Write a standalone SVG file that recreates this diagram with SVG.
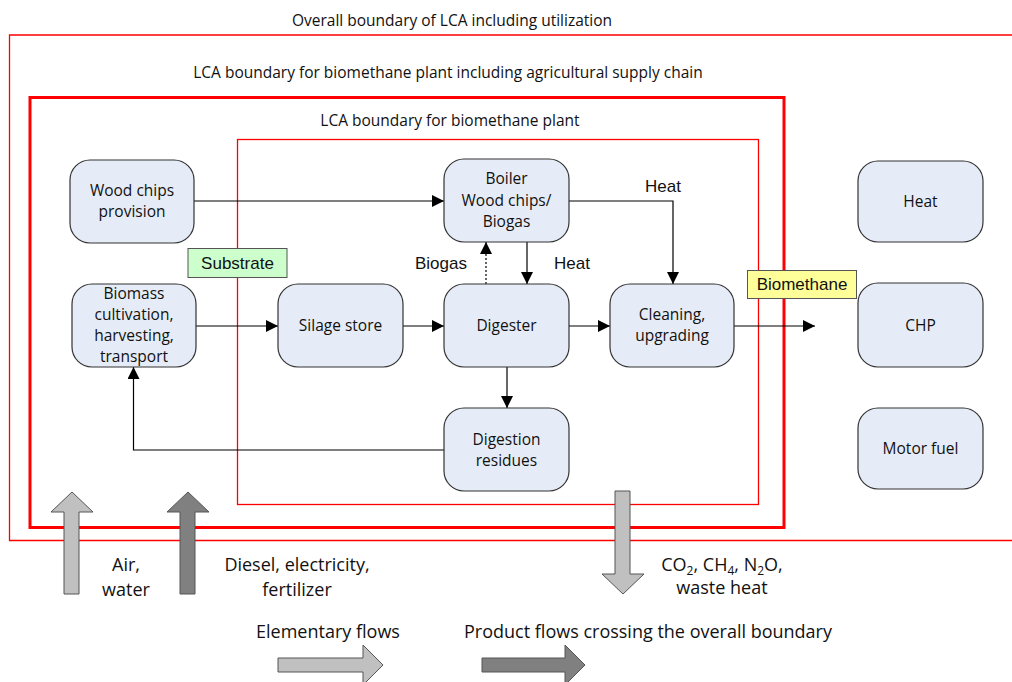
<svg xmlns="http://www.w3.org/2000/svg" width="1012" height="682" viewBox="0 0 1012 682">
<style>
.n{fill:#e6ecf7;stroke:#333;stroke-width:1.2}
.t{font-family:"Open Sans","Liberation Sans",sans-serif;font-size:15.5px;fill:#111;text-anchor:middle}
.a{font-family:"Liberation Sans",Arial,sans-serif;font-size:17px;fill:#111;text-anchor:middle}
.b{font-family:"Open Sans","Liberation Sans",sans-serif;font-size:18px;fill:#111;text-anchor:middle}
.c{fill:none;stroke:#000;stroke-width:1.2}
</style>
<defs>
<marker id="ah" viewBox="0 0 10 10" refX="10" refY="5" markerWidth="12" markerHeight="12" markerUnits="userSpaceOnUse" orient="auto">
<path d="M0,0 L10,5 L0,10 z" fill="#000"/>
</marker>
</defs>
<rect width="1012" height="682" fill="#fff"/>
<g id="boundaries">
<path d="M1012,35 H9.5 V540.5 H1012" fill="none" stroke="#f00" stroke-width="1.3"/>
<rect x="30" y="97.5" width="754" height="430" fill="none" stroke="#f00" stroke-width="3"/>
<rect x="237.5" y="139.5" width="521" height="365" fill="none" stroke="#f00" stroke-width="1.3"/>
<text class="t" x="452" y="26">Overall boundary of LCA including utilization</text>
<text class="t" x="448" y="78">LCA boundary for biomethane plant including agricultural supply chain</text>
<text class="t" x="450" y="126">LCA boundary for biomethane plant</text>
</g>
<g id="connectors">
<path class="c" d="M194,201 H444" marker-end="url(#ah)"/>
<path class="c" d="M196,326 H278" marker-end="url(#ah)"/>
<path class="c" d="M403,326 H444" marker-end="url(#ah)"/>
<path class="c" d="M569,326 H610" marker-end="url(#ah)"/>
<path class="c" d="M734,326 H815" marker-end="url(#ah)"/>
<path class="c" d="M569,201 H673 V284" marker-end="url(#ah)"/>
<path class="c" d="M527,242 V284" marker-end="url(#ah)"/>
<path class="c" d="M486,284 V242" stroke-dasharray="2,2" marker-end="url(#ah)"/>
<path class="c" d="M507,367 V408" marker-end="url(#ah)"/>
<path class="c" d="M444,450 H133.5 V367" stroke="#444" marker-end="url(#ah)"/>
<text class="a" x="663" y="192">Heat</text>
<text class="a" x="441" y="269">Biogas</text>
<text class="a" x="572" y="269">Heat</text>
</g>
<g id="substrate">
<rect x="188" y="248.5" width="99" height="29" fill="#ccffcc" stroke="#555" stroke-width="1"/>
<text class="a" x="237.5" y="269">Substrate</text>
</g>
<g id="biomethane">
<rect x="747.5" y="270.5" width="109" height="28" fill="#ffff99" stroke="#555" stroke-width="1"/>
<text class="a" x="802" y="290">Biomethane</text>
</g>
<g id="wood-chips">
<rect class="n" x="70" y="160" width="124" height="83" rx="20"/>
<text class="t" x="132" y="196">Wood chips</text>
<text class="t" x="132" y="217">provision</text>
</g>
<g id="biomass">
<rect class="n" x="72" y="284" width="124" height="83" rx="20"/>
<text class="t" x="134" y="299">Biomass</text>
<text class="t" x="134" y="320">cultivation,</text>
<text class="t" x="134" y="341">harvesting,</text>
<text class="t" x="134" y="362">transport</text>
</g>
<g id="silage">
<rect class="n" x="278" y="284" width="125" height="83" rx="20"/>
<text class="t" x="340.5" y="331">Silage store</text>
</g>
<g id="boiler">
<rect class="n" x="444" y="159" width="125" height="83" rx="20"/>
<text class="t" x="506.5" y="184">Boiler</text>
<text class="t" x="506.5" y="206">Wood chips/</text>
<text class="t" x="506.5" y="227">Biogas</text>
</g>
<g id="digester">
<rect class="n" x="444" y="284" width="125" height="83" rx="20"/>
<text class="t" x="506.5" y="331">Digester</text>
</g>
<g id="cleaning">
<rect class="n" x="610" y="284" width="124" height="83" rx="20"/>
<text class="t" x="672" y="320">Cleaning,</text>
<text class="t" x="672" y="341">upgrading</text>
</g>
<g id="residues">
<rect class="n" x="444" y="408" width="125" height="83" rx="20"/>
<text class="t" x="506.5" y="445">Digestion</text>
<text class="t" x="506.5" y="466">residues</text>
</g>
<g id="heat">
<rect class="n" x="858" y="161" width="125" height="81" rx="20"/>
<text class="t" x="920.5" y="207">Heat</text>
</g>
<g id="chp">
<rect class="n" x="858" y="283" width="125" height="84" rx="20"/>
<text class="t" x="920.5" y="331">CHP</text>
</g>
<g id="motor-fuel">
<rect class="n" x="858" y="408" width="125" height="81" rx="20"/>
<text class="t" x="920.5" y="454">Motor fuel</text>
</g>
<g id="flows">
<path d="M64,594 V512 H51 L72,492 L93,512 H79 V594 Z" fill="#c0c0c0" stroke="#555" stroke-width="1"/>
<path d="M180,594 V512 H167 L188,492 L209,512 H195 V594 Z" fill="#808080" stroke="#555" stroke-width="1"/>
<path d="M615,491 V574 H602 L623,594 L644,574 H630 V491 Z" fill="#c0c0c0" stroke="#555" stroke-width="1"/>
<text class="b" x="126" y="571">Air,</text>
<text class="b" x="126" y="596">water</text>
<text class="b" x="297" y="571">Diesel, electricity,</text>
<text class="b" x="297" y="596">fertilizer</text>
<text class="b" x="722" y="571">CO<tspan font-size="12" dy="4">2</tspan><tspan dy="-4">, CH</tspan><tspan font-size="12" dy="4">4</tspan><tspan dy="-4">, N</tspan><tspan font-size="12" dy="4">2</tspan><tspan dy="-4">O,</tspan></text>
<text class="b" x="722" y="594">waste heat</text>
</g>
<g id="legend">
<text class="b" x="328" y="638">Elementary flows</text>
<text class="b" x="648" y="638">Product flows crossing the overall boundary</text>
<path d="M278,658 H363 V645 L383,665 L363,685 V672 H278 Z" fill="#c0c0c0" stroke="#555" stroke-width="1"/>
<path d="M482,658 H565 V645 L585,665 L565,685 V672 H482 Z" fill="#808080" stroke="#555" stroke-width="1"/>
</g>
</svg>
